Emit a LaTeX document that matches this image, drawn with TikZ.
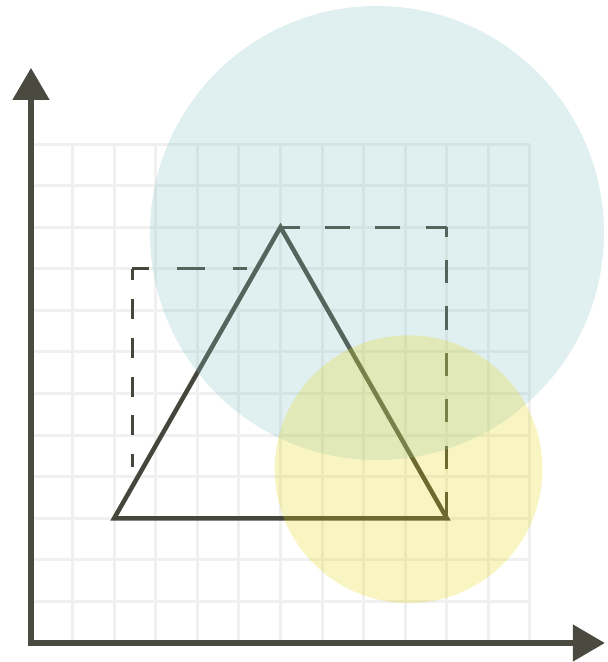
\documentclass[tikz,border=0pt]{standalone}
\usepackage{xcolor}
\usepackage{tikz}
\usetikzlibrary{arrows.meta}
\definecolor{axisgray}{RGB}{74,74,64}
\definecolor{gridgray}{RGB}{240,240,240}
\definecolor{strokegray}{RGB}{70,70,60}
\definecolor{tealdisc}{RGB}{131,195,195}
\definecolor{yellowdisc}{RGB}{227,215,15}

\begin{document}
\begin{tikzpicture}[
    x=1.04cm, y=1.04cm,
    axis/.style={line width=3.6pt, draw=axisgray, line join=miter,
      {Triangle[length=22.8pt, width=25.6pt]}-{Triangle[length=22.8pt, width=25.6pt]}},
    gridline/.style={line width=2.1pt, draw=gridgray},
    outline/.style={line width=3.2pt, draw=strokegray, line join=miter},
    guide/.style={line width=2.1pt, draw=strokegray},
    disc/.style={fill=#1, fill opacity=0.25},
]
    \useasboundingbox (-0.7456,-0.457) rectangle (13.853,15.464);

    % Background grid
    \draw[gridline, step=1] (0,0) grid (12,12);

    % Axes
    \draw[axis] (0,13.83) -- (0,0) -- (13.80,0);

    % Triangle corners and guide points
    \coordinate (left) at (2,3);
    \coordinate (right) at (10,3);
    \coordinate (apex) at (6,10);
    \coordinate (guideLow) at (2.43,4.23);
    \coordinate (guideCorner) at (2.43,9);
    \coordinate (guideEnd) at (5.2,9);
    \coordinate (guideTop) at (10,10);

    % Dashed guides
    \draw[guide, dash pattern=on 14.2pt off 13.5pt, dash phase=6.4pt] (guideCorner) -- (guideLow);
    \draw[guide, dash pattern=on 19.9pt off 19.9pt, dash phase=7.8pt] (guideCorner) -- (guideEnd);
    \draw[guide, dash pattern=on 17.8pt off 17.8pt, dash phase=3.6pt] (apex) -- (guideTop);
    \draw[guide, dash pattern=on 16.5pt off 16.5pt, dash phase=9.6pt] (guideTop) -- (right);

    % Triangle
    \draw[outline] (left) -- (right) -- (apex) -- cycle;

    % Translucent discs
    \coordinate (bigCenter) at (8.32,9.86);
    \coordinate (smallCenter) at (9.08,4.18);
    \fill[disc=tealdisc] (bigCenter) circle[radius=5.46];
    \fill[disc=yellowdisc] (smallCenter) circle[radius=3.22];

\end{tikzpicture}
\end{document}
